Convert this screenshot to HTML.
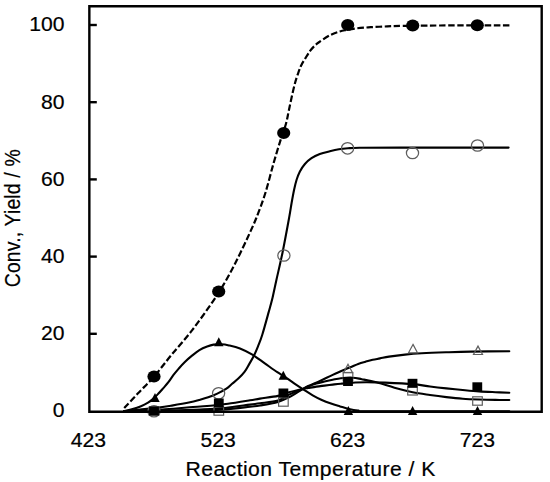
<!DOCTYPE html>
<html><head><meta charset="utf-8"><style>
html,body{margin:0;padding:0;background:#fff;}
body{width:550px;height:482px;overflow:hidden;}
svg{display:block;font-family:"Liberation Sans",sans-serif;}
text{stroke:#000;stroke-width:0.2px;}
</style></head><body>
<svg width="550" height="482" viewBox="0 0 550 482">
<rect width="550" height="482" fill="#fff"/>
<path d="M124.00,411.20 C126.67,410.93 134.22,410.20 140.00,409.60 C145.78,409.00 153.40,408.27 158.70,407.60 C164.00,406.93 166.58,406.48 171.80,405.60 C177.02,404.72 185.45,403.23 190.00,402.30 C194.55,401.37 196.07,400.83 199.10,400.00 C202.13,399.17 205.17,398.37 208.20,397.30 C211.23,396.23 214.27,395.05 217.30,393.60 C220.33,392.15 223.93,390.23 226.40,388.60 C228.87,386.97 230.12,385.47 232.10,383.80 C234.08,382.13 236.23,380.58 238.30,378.60 C240.37,376.62 242.68,374.32 244.50,371.90 C246.32,369.48 247.63,366.78 249.20,364.10 C250.77,361.42 252.43,358.75 253.90,355.80 C255.37,352.85 256.62,349.87 258.00,346.40 C259.38,342.93 260.43,340.67 262.20,335.00 C263.97,329.33 266.87,318.67 268.60,312.40 C270.33,306.13 271.30,302.80 272.60,297.40 C273.90,292.00 274.73,287.53 276.40,280.00 C278.07,272.47 280.48,262.55 282.60,252.20 C284.72,241.85 287.60,226.10 289.10,217.90 C290.60,209.70 290.77,207.68 291.60,203.00 C292.43,198.32 293.27,193.67 294.10,189.80 C294.93,185.93 295.63,182.85 296.60,179.80 C297.57,176.75 298.52,174.13 299.90,171.50 C301.28,168.87 302.97,166.22 304.90,164.00 C306.83,161.78 309.02,159.85 311.50,158.20 C313.98,156.55 316.75,155.25 319.80,154.10 C322.85,152.95 326.62,152.10 329.80,151.30 C332.98,150.50 335.87,149.80 338.90,149.30 C341.93,148.80 344.55,148.55 348.00,148.30 C351.45,148.05 350.93,147.92 359.60,147.80 C368.27,147.68 375.17,147.63 400.00,147.60 C424.83,147.57 490.50,147.60 508.60,147.60" fill="none" stroke="#000" stroke-width="2.1" stroke-linecap="round" stroke-linejoin="round"/>
<path d="M124.00,411.20 C125.45,410.85 129.97,409.88 132.70,409.10 C135.43,408.32 137.85,407.57 140.40,406.50 C142.95,405.43 145.88,403.97 148.00,402.70 C150.12,401.43 151.40,400.38 153.10,398.90 C154.80,397.42 156.50,395.60 158.20,393.80 C159.90,392.00 161.60,390.03 163.30,388.10 C165.00,386.17 166.73,384.35 168.40,382.20 C170.07,380.05 171.58,377.47 173.30,375.20 C175.02,372.93 176.82,370.77 178.70,368.60 C180.58,366.43 182.33,364.40 184.60,362.20 C186.87,360.00 189.83,357.42 192.30,355.40 C194.77,353.38 196.93,351.58 199.40,350.10 C201.87,348.62 204.73,347.42 207.10,346.50 C209.47,345.58 211.23,344.97 213.60,344.60 C215.97,344.23 218.75,344.17 221.30,344.30 C223.85,344.43 225.78,344.70 228.90,345.40 C232.02,346.10 236.08,346.95 240.00,348.50 C243.92,350.05 248.27,352.22 252.40,354.70 C256.53,357.18 260.65,360.48 264.80,363.40 C268.95,366.32 273.85,369.88 277.30,372.20 C280.75,374.52 282.63,375.40 285.50,377.30 C288.37,379.20 291.48,381.55 294.50,383.60 C297.52,385.65 300.57,387.65 303.60,389.60 C306.63,391.55 309.67,393.57 312.70,395.30 C315.73,397.03 318.75,398.62 321.80,400.00 C324.85,401.38 327.97,402.53 331.00,403.60 C334.03,404.67 337.00,405.50 340.00,406.40 C343.00,407.30 346.00,408.32 349.00,409.00 C352.00,409.68 354.17,410.13 358.00,410.50 C361.83,410.87 346.78,411.07 372.00,411.20 C397.22,411.33 486.42,411.28 509.30,411.30" fill="none" stroke="#000" stroke-width="2.1" stroke-linecap="round" stroke-linejoin="round"/>
<path d="M124.00,411.30 C131.67,411.25 157.33,411.17 170.00,411.00 C182.67,410.83 190.83,410.57 200.00,410.30 C209.17,410.03 216.67,410.00 225.00,409.40 C233.33,408.80 244.17,407.35 250.00,406.70 C255.83,406.05 255.33,406.30 260.00,405.50 C264.67,404.70 273.17,403.28 278.00,401.90 C282.83,400.52 285.83,398.75 289.00,397.20 C292.17,395.65 294.58,394.03 297.00,392.60 C299.42,391.17 301.63,389.70 303.50,388.60 C305.37,387.50 305.37,387.33 308.20,386.00 C311.03,384.67 316.42,382.45 320.50,380.60 C324.58,378.75 328.62,376.75 332.70,374.90 C336.78,373.05 340.75,371.33 345.00,369.50 C349.25,367.67 354.78,365.20 358.20,363.90 C361.62,362.60 363.08,362.38 365.50,361.70 C367.92,361.02 370.28,360.35 372.70,359.80 C375.12,359.25 377.28,358.93 380.00,358.40 C382.72,357.87 384.83,357.23 389.00,356.60 C393.17,355.97 399.53,355.15 405.00,354.60 C410.47,354.05 414.97,353.68 421.80,353.30 C428.63,352.92 437.82,352.58 446.00,352.30 C454.18,352.02 460.35,351.78 470.90,351.60 C481.45,351.42 502.90,351.27 509.30,351.20" fill="none" stroke="#000" stroke-width="2.1" stroke-linecap="round" stroke-linejoin="round"/>
<path d="M124.00,411.30 C131.67,411.17 157.33,410.80 170.00,410.50 C182.67,410.20 190.83,409.92 200.00,409.50 C209.17,409.08 216.67,408.82 225.00,408.00 C233.33,407.18 244.17,405.38 250.00,404.60 C255.83,403.82 255.33,403.98 260.00,403.30 C264.67,402.62 273.17,401.95 278.00,400.50 C282.83,399.05 285.83,396.15 289.00,394.60 C292.17,393.05 294.58,392.20 297.00,391.20 C299.42,390.20 301.63,389.40 303.50,388.60 C305.37,387.80 306.05,387.25 308.20,386.40 C310.35,385.55 313.68,384.32 316.40,383.50 C319.12,382.68 321.78,382.13 324.50,381.50 C327.22,380.87 329.97,380.25 332.70,379.70 C335.43,379.15 337.57,378.53 340.90,378.20 C344.23,377.87 349.22,377.53 352.70,377.70 C356.18,377.87 357.85,378.43 361.80,379.20 C365.75,379.97 370.95,380.88 376.40,382.30 C381.85,383.72 388.45,386.03 394.50,387.70 C400.55,389.37 406.78,391.08 412.70,392.30 C418.62,393.52 424.38,394.20 430.00,395.00 C435.62,395.80 440.95,396.48 446.40,397.10 C451.85,397.72 457.25,398.30 462.70,398.70 C468.15,399.10 473.63,399.30 479.10,399.50 C484.57,399.70 490.47,399.82 495.50,399.90 C500.53,399.98 507.00,399.98 509.30,400.00" fill="none" stroke="#000" stroke-width="2.1" stroke-linecap="round" stroke-linejoin="round"/>
<path d="M124.00,411.20 C130.83,410.88 153.50,410.00 165.00,409.30 C176.50,408.60 184.67,407.67 193.00,407.00 C201.33,406.33 209.17,405.83 215.00,405.30 C220.83,404.77 222.17,404.63 228.00,403.80 C233.83,402.97 244.67,401.17 250.00,400.30 C255.33,399.43 255.33,399.33 260.00,398.60 C264.67,397.87 273.17,396.97 278.00,395.90 C282.83,394.83 284.75,393.38 289.00,392.20 C293.25,391.02 300.30,389.50 303.50,388.80 C306.70,388.10 306.05,388.37 308.20,388.00 C310.35,387.63 313.68,387.00 316.40,386.60 C319.12,386.20 321.78,385.93 324.50,385.60 C327.22,385.27 329.97,384.92 332.70,384.60 C335.43,384.28 337.13,384.05 340.90,383.70 C344.67,383.35 350.95,382.75 355.30,382.50 C359.65,382.25 362.05,382.18 367.00,382.20 C371.95,382.22 377.38,382.28 385.00,382.60 C392.62,382.92 405.20,383.45 412.70,384.10 C420.20,384.75 424.38,385.78 430.00,386.50 C435.62,387.22 440.95,387.82 446.40,388.40 C451.85,388.98 457.25,389.50 462.70,390.00 C468.15,390.50 473.63,391.03 479.10,391.40 C484.57,391.77 490.47,391.98 495.50,392.20 C500.53,392.42 507.00,392.62 509.30,392.70" fill="none" stroke="#000" stroke-width="2.1" stroke-linecap="round" stroke-linejoin="round"/>
<path id="dash" d="M124.20,408.10 C126.50,405.63 133.03,398.55 138.00,393.30 C142.97,388.05 148.47,382.95 154.00,376.60 C159.53,370.25 164.87,362.90 171.20,355.20 C177.53,347.50 185.10,339.30 192.00,330.40 C198.90,321.50 207.42,309.30 212.60,301.80 C217.78,294.30 219.80,290.90 223.10,285.40 C226.40,279.90 229.47,274.33 232.40,268.80 C235.33,263.27 237.93,257.90 240.70,252.20 C243.47,246.50 246.40,240.30 249.00,234.60 C251.60,228.90 253.60,224.85 256.30,218.00 C259.00,211.15 262.33,202.58 265.20,193.50 C268.07,184.42 270.92,172.48 273.50,163.50 C276.08,154.52 278.63,146.18 280.70,139.60 C282.77,133.02 284.58,128.67 285.90,124.00 C287.22,119.33 287.65,116.02 288.60,111.60 C289.55,107.18 290.55,102.18 291.60,97.50 C292.65,92.82 293.82,87.52 294.90,83.50 C295.98,79.48 297.03,76.45 298.10,73.40 C299.17,70.35 300.07,67.75 301.30,65.20 C302.53,62.65 304.07,60.43 305.50,58.10 C306.93,55.77 308.45,53.18 309.90,51.20 C311.35,49.22 312.75,47.65 314.20,46.20 C315.65,44.75 316.00,44.32 318.60,42.50 C321.20,40.68 326.27,37.13 329.80,35.30 C333.33,33.47 337.03,32.38 339.80,31.50 C342.57,30.62 343.67,30.52 346.40,30.00 C349.13,29.48 352.12,28.87 356.20,28.40 C360.28,27.93 365.72,27.53 370.90,27.20 C376.08,26.87 382.12,26.62 387.30,26.40 C392.48,26.18 393.22,26.05 402.00,25.90 C410.78,25.75 422.00,25.60 440.00,25.50 C458.00,25.40 498.33,25.33 510.00,25.30" fill="none" stroke="#000" stroke-width="2.2" stroke-dasharray="6.5 2.586"/>
<rect x="149.2" y="406.8" width="9.6" height="8.4" fill="none" stroke="#5e5e5e" stroke-width="1.20"/>
<rect x="214.0" y="406.8" width="9.6" height="8.4" fill="none" stroke="#5e5e5e" stroke-width="1.20"/>
<rect x="278.6" y="397.8" width="9.6" height="8.4" fill="none" stroke="#5e5e5e" stroke-width="1.20"/>
<rect x="343.2" y="372.5" width="9.6" height="8.4" fill="none" stroke="#5e5e5e" stroke-width="1.20"/>
<rect x="407.7" y="386.6" width="9.6" height="8.4" fill="none" stroke="#5e5e5e" stroke-width="1.20"/>
<rect x="472.7" y="396.8" width="9.6" height="8.4" fill="none" stroke="#5e5e5e" stroke-width="1.20"/>
<polygon points="348.0,364.2 352.5,372.6 343.5,372.6" fill="none" stroke="#5e5e5e" stroke-width="1.20" stroke-linejoin="miter"/>
<polygon points="413.0,344.4 417.5,352.8 408.5,352.8" fill="none" stroke="#5e5e5e" stroke-width="1.20" stroke-linejoin="miter"/>
<polygon points="478.0,346.1 482.5,354.5 473.5,354.5" fill="none" stroke="#5e5e5e" stroke-width="1.20" stroke-linejoin="miter"/>
<ellipse cx="154.0" cy="411.3" rx="6.10" ry="5.70" fill="none" stroke="#5e5e5e" stroke-width="1.25"/>
<ellipse cx="218.6" cy="393.3" rx="6.10" ry="5.70" fill="none" stroke="#5e5e5e" stroke-width="1.25"/>
<ellipse cx="283.9" cy="255.5" rx="6.10" ry="5.70" fill="none" stroke="#5e5e5e" stroke-width="1.25"/>
<ellipse cx="347.6" cy="148.3" rx="6.10" ry="5.70" fill="none" stroke="#5e5e5e" stroke-width="1.25"/>
<ellipse cx="412.5" cy="153.0" rx="6.10" ry="5.70" fill="none" stroke="#5e5e5e" stroke-width="1.25"/>
<ellipse cx="477.5" cy="145.5" rx="6.10" ry="5.70" fill="none" stroke="#5e5e5e" stroke-width="1.25"/>
<rect x="149.1" y="406.5" width="9.8" height="9.0" fill="#000"/>
<rect x="213.9" y="398.5" width="9.8" height="9.0" fill="#000"/>
<rect x="278.5" y="388.5" width="9.8" height="9.0" fill="#000"/>
<rect x="343.1" y="377.0" width="9.8" height="9.0" fill="#000"/>
<rect x="407.6" y="378.8" width="9.8" height="9.0" fill="#000"/>
<rect x="472.4" y="382.3" width="9.8" height="9.0" fill="#000"/>
<polygon points="155.0,393.1 159.7,402.1 150.3,402.1" fill="#000"/>
<polygon points="218.8,337.3 223.5,346.3 214.1,346.3" fill="#000"/>
<polygon points="283.3,370.8 288.0,379.8 278.6,379.8" fill="#000"/>
<polygon points="348.4,406.0 353.1,415.0 343.7,415.0" fill="#000"/>
<polygon points="412.6,406.0 417.3,415.0 407.9,415.0" fill="#000"/>
<polygon points="477.5,406.0 482.2,415.0 472.8,415.0" fill="#000"/>
<ellipse cx="154.0" cy="376.6" rx="6.60" ry="6.00" fill="#000"/>
<ellipse cx="218.7" cy="291.6" rx="6.60" ry="6.00" fill="#000"/>
<ellipse cx="283.7" cy="133.0" rx="6.60" ry="6.00" fill="#000"/>
<ellipse cx="347.7" cy="25.0" rx="6.60" ry="6.00" fill="#000"/>
<ellipse cx="412.7" cy="25.5" rx="6.60" ry="6.00" fill="#000"/>
<ellipse cx="477.3" cy="25.3" rx="6.60" ry="6.00" fill="#000"/>
<path d="M89.35,6.3 H541.7 V411.8 H89.35 Z" fill="none" stroke="#000" stroke-width="2.4"/>
<line x1="89" y1="333.80" x2="96.8" y2="333.80" stroke="#000" stroke-width="2.4"/>
<line x1="89" y1="256.60" x2="96.8" y2="256.60" stroke="#000" stroke-width="2.4"/>
<line x1="89" y1="179.40" x2="96.8" y2="179.40" stroke="#000" stroke-width="2.4"/>
<line x1="89" y1="102.20" x2="96.8" y2="102.20" stroke="#000" stroke-width="2.4"/>
<line x1="89" y1="25.00" x2="96.8" y2="25.00" stroke="#000" stroke-width="2.4"/>
<text transform="translate(64.60 417.40) scale(1.090 1)" text-anchor="end" font-size="19.40">0</text>
<text transform="translate(64.60 340.20) scale(1.090 1)" text-anchor="end" font-size="19.40">20</text>
<text transform="translate(64.60 263.00) scale(1.090 1)" text-anchor="end" font-size="19.40">40</text>
<text transform="translate(64.60 185.80) scale(1.090 1)" text-anchor="end" font-size="19.40">60</text>
<text transform="translate(64.60 108.60) scale(1.090 1)" text-anchor="end" font-size="19.40">80</text>
<text transform="translate(64.60 31.40) scale(1.090 1)" text-anchor="end" font-size="19.40">100</text>
<text transform="translate(88.40 447.20) scale(1.090 1)" text-anchor="middle" font-size="19.40">423</text>
<text transform="translate(218.05 447.20) scale(1.090 1)" text-anchor="middle" font-size="19.40">523</text>
<text transform="translate(347.70 447.20) scale(1.090 1)" text-anchor="middle" font-size="19.40">623</text>
<text transform="translate(477.35 447.20) scale(1.090 1)" text-anchor="middle" font-size="19.40">723</text>
<text transform="translate(310.60 475.60) scale(1.090 1)" text-anchor="middle" font-size="19.40" letter-spacing="0.42">Reaction Temperature / K</text>
<text transform="translate(19.9 218.2) rotate(-90) scale(1 1.155)" text-anchor="middle" font-size="19.40" letter-spacing="0.17">Conv., Yield / %</text>
</svg>
</body></html>
